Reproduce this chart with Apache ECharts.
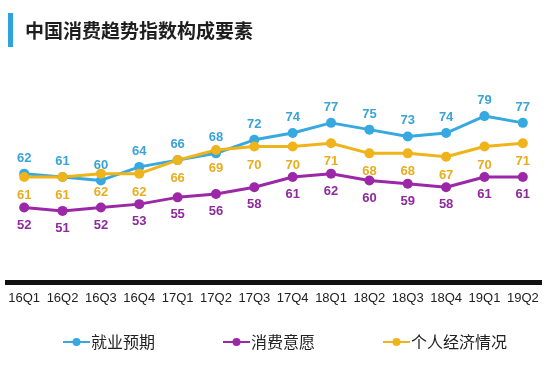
<!DOCTYPE html>
<html><head><meta charset="utf-8">
<script src="https://cdn.jsdelivr.net/npm/echarts@6/dist/echarts.min.js"></script>
<style>html,body{margin:0;padding:0;background:#fff}#c{width:549px;height:365px}</style>
</head><body><div id="c"></div>
<script>
const categories = ['16Q1','16Q2','16Q3','16Q4','17Q1','17Q2','17Q3','17Q4','18Q1','18Q2','18Q3','18Q4','19Q1','19Q2'];
const employment = [62,61,60,64,66,68,72,74,77,75,73,74,79,77];
const willingness = [52,51,52,53,55,56,58,61,62,60,59,58,61,61];
const personal = [61,61,62,62,66,69,70,70,71,68,68,67,70,71];
const seriesNames = ['就业预期','消费意愿','个人经济情况'];
const colors = ['#36a9e1','#9b28a6','#f0b41b'];
const labelColors = ['#3aa3d6','#8e2a9c','#e7ad1f'];

const chart = echarts.init(document.getElementById('c'));
function mk(i, data, pos, dist){
  return {
    name: seriesNames[i], type:'line', data: data,
    symbol:'circle', symbolSize:10,
    lineStyle:{width:3, color:colors[i]},
    itemStyle:{color:colors[i]},
    label:{show:true, position:pos, distance:dist, color:labelColors[i],
      fontSize:13, fontWeight:'bold', fontFamily:'Liberation Sans, Arial, sans-serif'}
  };
}
chart.setOption({
  backgroundColor:'#fff',
  animation:false,
  graphic:[
    {type:'rect', shape:{x:8,y:13,width:5,height:34}, style:{fill:'#2ea3dc'}},
    {type:'text', left:25, top:21, style:{text:'中国消费趋势指数构成要素', fill:'#1e1e1e',
      font:'bold 19px "Noto Sans CJK SC", sans-serif'}}
  ],
  legend:{
    left:57, top:329, itemGap:67, itemWidth:27, itemHeight:10,
    textStyle:{fontSize:16, color:'#222', fontFamily:'"Noto Sans CJK SC", sans-serif', padding:[0,0,0,-4]},
    data:seriesNames
  },
  grid:{left:5, right:7, top:45, bottom:83},
  xAxis:{
    type:'category', data:categories, boundaryGap:true,
    axisLine:{lineStyle:{color:'#111', width:5, cap:'butt'}},
    axisTick:{show:false},
    axisLabel:{color:'#222', fontSize:13, margin:10, interval:0, fontFamily:'Liberation Sans, Arial, sans-serif'}
  },
  yAxis:{type:'value', min:30, max:100, show:false, splitLine:{show:false}},
  series:[
    mk(0, employment, 'top', 4),
    mk(1, willingness, 'bottom', 6),
    mk(2, personal, 'bottom', 7)
  ]
});
</script></body></html>
